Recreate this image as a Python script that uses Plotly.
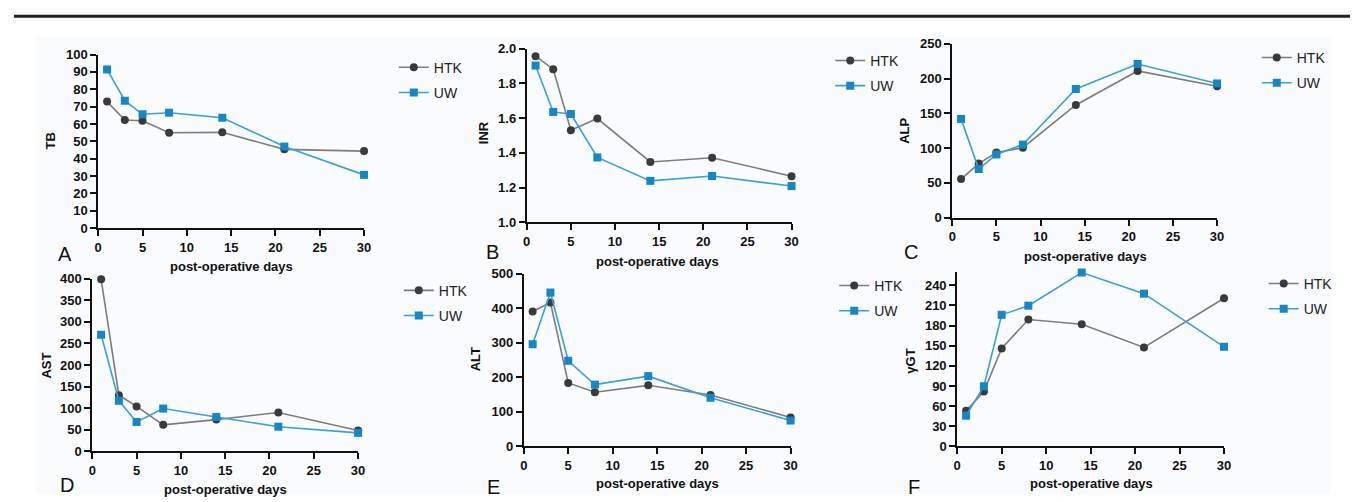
import plotly.graph_objects as go

W, H = 1357, 502

days = [1, 3, 5, 8, 14, 21, 30]

tb_htk = [72.9, 62.3, 61.9, 55.0, 55.2, 45.4, 44.4]
tb_uw = [91.4, 73.4, 65.6, 66.5, 63.6, 47.0, 30.7]

inr_htk = [1.957, 1.882, 1.531, 1.598, 1.348, 1.372, 1.266]
inr_uw = [1.903, 1.636, 1.624, 1.374, 1.239, 1.267, 1.209]

alp_htk = [55.4, 77.7, 93.5, 100.5, 162.0, 211.0, 189.0]
alp_uw = [142.0, 69.8, 90.8, 105.0, 185.0, 221.0, 193.0]

ast_htk = [398.5, 130.0, 104.0, 61.4, 73.4, 90.0, 48.0]
ast_uw = [270.0, 117.0, 68.0, 99.0, 79.4, 57.0, 42.7]

alt_htk = [391.0, 417.0, 184.0, 157.0, 177.0, 149.0, 84.0]
alt_uw = [296.0, 445.6, 248.0, 179.0, 203.6, 141.0, 75.0]

ggt_htk = [53.0, 82.0, 146.0, 189.0, 182.0, 147.5, 220.7]
ggt_uw = [45.8, 89.6, 196.0, 209.6, 259.0, 227.5, 148.4]

series_names = ["HTK", "UW"]
x_title = "post-operative days"

panels = [
    # name, letter, htk, uw, y range, tickvals, tickformat
    ("TB", "A", tb_htk, tb_uw, [0, 100], list(range(0, 101, 10)), None),
    ("INR", "B", inr_htk, inr_uw, [1.0, 2.0], [1.0, 1.2, 1.4, 1.6, 1.8, 2.0], ".1f"),
    ("ALP", "C", alp_htk, alp_uw, [0, 250], list(range(0, 251, 50)), None),
    ("AST", "D", ast_htk, ast_uw, [0, 400], list(range(0, 401, 50)), None),
    ("ALT", "E", alt_htk, alt_uw, [0, 500], list(range(0, 501, 100)), None),
    ("γGT", "F", ggt_htk, ggt_uw, [0, 260], list(range(0, 241, 30)), None),
]

# layout geometry in pixels: (x0, x1, ytop, ybottom)
boxes = [
    (95, 363, 49, 228),
    (527, 794, 43, 222),
    (956, 1223, 38, 217),
    (89, 357, 280, 458),
    (524, 793, 275, 453),
    (961, 1230, 273, 453),
]
ytitle_pos = [(47, 138), (483, 130), (908, 128), (43, 370), (475, 363), (913, 365)]
xtitle_pos = [(229, 268), (659, 262), (1090, 257), (223, 497), (659, 491), (1096, 491)]
letter_pos = [(62, 255), (492, 253), (914, 253), (64, 493), (494, 495), (917, 495)]
legend_pos = [(393, 46), (833, 39), (1263, 36), (398, 276), (837, 271), (1270, 269)]

FONT = "Liberation Sans, Arial, Helvetica, sans-serif"
HTK_LINE, HTK_MARK = "#7d7d7d", "#3a3a3a"
UW_LINE, UW_MARK = "#3aa0d8", "#1786c4"


def px(x):
    return x / W


def py(y):
    return 1 - y / H


fig = go.Figure()
annotations = []
layout_axes = {}

for i, (name, letter, htk, uw, yr, tv, tf) in enumerate(panels):
    n = i + 1
    xa = "x" if n == 1 else f"x{n}"
    ya = "y" if n == 1 else f"y{n}"
    lg = "legend" if n == 1 else f"legend{n}"
    fig.add_trace(go.Scatter(
        x=days, y=htk, name=series_names[0], mode="lines+markers",
        line=dict(color=HTK_LINE, width=1.6),
        marker=dict(symbol="circle", size=8, color=HTK_MARK),
        xaxis=xa, yaxis=ya, legend=lg, legendgroup=f"h{n}", cliponaxis=False,
    ))
    fig.add_trace(go.Scatter(
        x=days, y=uw, name=series_names[1], mode="lines+markers",
        line=dict(color=UW_LINE, width=1.6),
        marker=dict(symbol="square", size=8, color=UW_MARK),
        xaxis=xa, yaxis=ya, legend=lg, legendgroup=f"u{n}", cliponaxis=False,
    ))
    x0, x1, yt, yb = boxes[i]
    common = dict(showgrid=False, zeroline=False, showline=True, linecolor="#111",
                  linewidth=2, ticks="outside", tickwidth=2, ticklen=6,
                  tickcolor="#111",
                  tickfont=dict(family=FONT, size=13, color="#111", weight="bold"))
    xkey = "xaxis" if n == 1 else f"xaxis{n}"
    ykey = "yaxis" if n == 1 else f"yaxis{n}"
    layout_axes[xkey] = dict(domain=[px(x0), px(x1)], range=[0, 30],
                             tickvals=[0, 5, 10, 15, 20, 25, 30],
                             anchor=ya, **common)
    yd = dict(domain=[py(yb), py(yt)], range=yr, tickvals=tv, anchor=xa, **common)
    if tf:
        yd["tickformat"] = tf
    layout_axes[ykey] = yd

    lx, ly = legend_pos[i]
    layout_axes[lg] = dict(x=px(lx), y=py(ly), xanchor="left", yanchor="top",
                           bgcolor="rgba(0,0,0,0)", tracegroupgap=4,
                           font=dict(family=FONT, size=14, color="#222"),
                           itemwidth=30)

    anc = dict(xref="paper", yref="paper", showarrow=False,
               xanchor="center", yanchor="middle")
    tx, ty = ytitle_pos[i]
    annotations.append(dict(x=px(tx), y=py(ty), text=name, textangle=-90,
                            font=dict(family=FONT, size=13, color="#111", weight="bold"),
                            **anc))
    tx, ty = xtitle_pos[i]
    annotations.append(dict(x=px(tx), y=py(ty), text=x_title,
                            font=dict(family=FONT, size=13, color="#111", weight="bold"),
                            **anc))
    tx, ty = letter_pos[i]
    annotations.append(dict(x=px(tx), y=py(ty), text=letter,
                            font=dict(family=FONT, size=20, color="#111"), **anc))

fig.update_layout(
    autosize=True,
    margin=dict(l=0, r=0, t=0, b=0),
    paper_bgcolor="white", plot_bgcolor="rgba(0,0,0,0)",
    annotations=annotations,
    shapes=[
        dict(type="rect", xref="paper", yref="paper", x0=px(32), x1=px(1338),
             y0=0, y1=py(29), fillcolor="#fafbfd", line=dict(width=0), layer="below"),
        dict(type="line", xref="paper", yref="paper", x0=px(10), x1=1,
             y0=py(9.5), y1=py(9.5), line=dict(color="#231f20", width=3)),
    ],
    **layout_axes,
)

fig.write_html(
    "out.html",
    default_width="100vw",
    default_height="100vh",
    config={"displayModeBar": False, "staticPlot": True},
    post_script=(
        "var s=document.createElement('style');"
        "s.textContent='html,body{margin:0!important;padding:0!important;"
        "overflow:hidden!important;}"
        ".plotly-graph-div{position:absolute!important;top:0;left:0;}';"
        "document.head.appendChild(s);"
        "Plotly.Plots.resize(document.getElementById('{plot_id}'));"
    ),
)
